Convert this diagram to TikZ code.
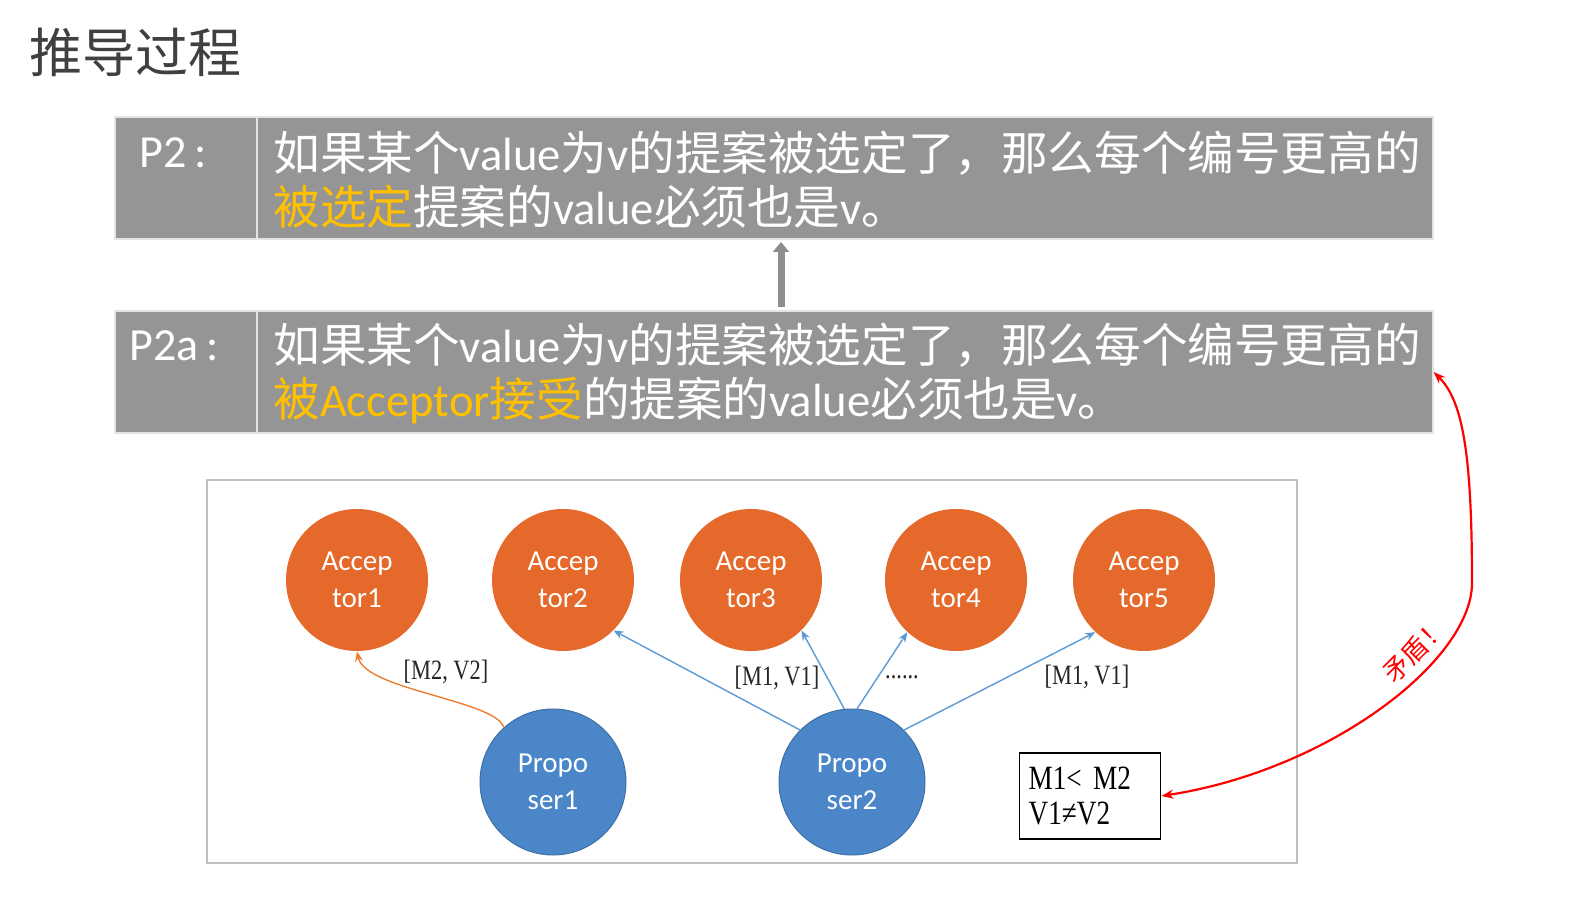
\documentclass[tikz,border=0pt]{standalone}
\usepackage{fontspec}
\setmainfont{Carlito}
\newfontfamily\cjk{Noto Sans CJK SC}
\newfontfamily\songlike[FakeStretch=0.8]{Liberation Serif}
\usetikzlibrary{arrows.meta}
\definecolor{cellgray}{HTML}{959595}
\definecolor{celledge}{HTML}{E4E4E4}
\definecolor{hilite}{HTML}{FFC000}
\definecolor{accfill}{HTML}{E5692A}
\definecolor{profill}{HTML}{4A86C8}
\definecolor{proedge}{HTML}{3E6FA6}
\definecolor{linkblue}{HTML}{5B9BD5}
\definecolor{linkorange}{HTML}{ED7D31}
\definecolor{framegray}{HTML}{BFBFBF}
\definecolor{titlegray}{HTML}{404040}
\definecolor{arrowgray}{HTML}{8E8E8E}
\definecolor{clashred}{HTML}{FF0000}

\begin{document}
\begin{tikzpicture}[x=0.5pt,y=-0.5pt,
  cell/.style={fill=cellgray, draw=celledge, line width=0.6pt, inner sep=0},
  celltext/.style={text=white, anchor=west, inner sep=0, align=left,
    font=\fontsize{23.3}{27}\selectfont},
  celllabel/.style={text=white, anchor=west, inner sep=0,
    font=\fontsize{23}{27}\selectfont},
  acc/.style={circle, fill=accfill, text=white, minimum size=71pt, inner sep=0,
    align=center, font=\fontsize{14.5}{18.5}\selectfont},
  pro/.style={circle, fill=profill, draw=proedge, line width=0.5pt, text=white,
    minimum size=73pt, inner sep=0, align=center, font=\fontsize{14.5}{18.5}\selectfont},
  msg/.style={draw=linkblue, line width=0.7pt, -{Stealth[length=5pt,width=4pt]}},
  lab/.style={inner sep=1pt, text=black!85, font=\songlike\fontsize{14}{16}\selectfont}
]
\useasboundingbox (0,0) rectangle (1596,924);
\fill[white] (0,0) rectangle (1596,924);

% heading
\node[anchor=west, inner sep=0, text=titlegray, font=\cjk\fontsize{26.5}{30}\selectfont]
  (title) at (29,52) {推导过程};

% statement P2
\node[cell, minimum width=71pt, minimum height=61pt] (p2lab) at (186,178) {};
\node[cell, minimum width=588pt, minimum height=61pt] (p2text) at (845,178) {};
\node[celllabel] (p2name) at (139,153) {P2\,:};
\node[celltext] (p2body) at (273,180)
  {{\cjk 如果某个}value{\cjk 为}v{\cjk 的提案被选定了，那么每个编号更高的}\\
   {\color{hilite}\cjk 被选定}{\cjk 提案的}value{\cjk 必须也是}v{\cjk 。}};

% statement P2a
\node[cell, minimum width=71pt, minimum height=61pt] (p2alab) at (186,372) {};
\node[cell, minimum width=588pt, minimum height=61pt] (p2atext) at (845,372) {};
\node[celllabel] (p2aname) at (129,346) {P2a\,:};
\node[celltext] (p2abody) at (273,374)
  {{\cjk 如果某个}value{\cjk 为}v{\cjk 的提案被选定了，那么每个编号更高的}\\
   {\color{hilite}{\cjk 被}Acceptor{\cjk 接受}}{\cjk 的提案的}value{\cjk 必须也是}v{\cjk 。}};

% P2a implies P2
\coordinate (ga) at (781,307);
\coordinate (gb) at (781,242);
\draw[arrowgray, line width=3.5pt, -{Triangle[length=5pt,width=8pt]}] (ga) -- (gb);

% scenario frame
\draw[framegray, line width=0.6pt] (207,480) rectangle (1297,863);

% acceptors
\node[acc] (a1) at (357,580) {Accep\\tor1};
\node[acc] (a2) at (563,580) {Accep\\tor2};
\node[acc] (a3) at (751,580) {Accep\\tor3};
\node[acc] (a4) at (956,580) {Accep\\tor4};
\node[acc] (a5) at (1144,580) {Accep\\tor5};

% proposers
\node[pro] (p1) at (553,782) {Propo\\ser1};
\node[pro] (p2) at (852,782) {Propo\\ser2};

% proposals
\draw[draw=linkorange, line width=0.7pt, -{Stealth[length=5pt,width=4pt]}]
  (p1.132) .. controls (495,700) and (365,690) .. (a1.south);
\draw[msg] (p2.135) -- (a2.-45);
\draw[msg] (p2.96) -- (a3.-45);
\draw[msg] (p2.86) -- (a4.227);
\draw[msg] (p2.45) -- (a5.227);

\node[lab] (m2v2) at (446,672) {[M2, V2]};
\node[lab] (m1v1a) at (777,678) {[M1, V1]};
\node[lab] (more) at (902,677) {......};
\node[lab] (m1v1b) at (1087,677) {[M1, V1]};

% conditions
\node[draw=black, line width=0.7pt, anchor=west, align=left, inner xsep=4.5pt,
  inner ysep=0, minimum height=43pt, text width=61.5pt,
  font=\songlike\fontsize{17}{17.5}\selectfont] (cmp) at (1019,796)
  {M1< M2\\V1≠V2};

% contradiction
\draw[clashred, line width=1.1pt,
  {Stealth[length=6pt,width=4.5pt]}-{Stealth[length=6pt,width=4.5pt]}]
  (cmp.east) .. controls (1330,770) and (1472,660) .. (1472,583)
  .. controls (1472,450) and (1462,400) .. (p2atext.east);
\node[text=clashred, rotate=45, inner sep=0, font=\cjk\fontsize{13}{15}\selectfont]
  (clash) at (1415,650) {矛盾！};
\end{tikzpicture}
\end{document}
